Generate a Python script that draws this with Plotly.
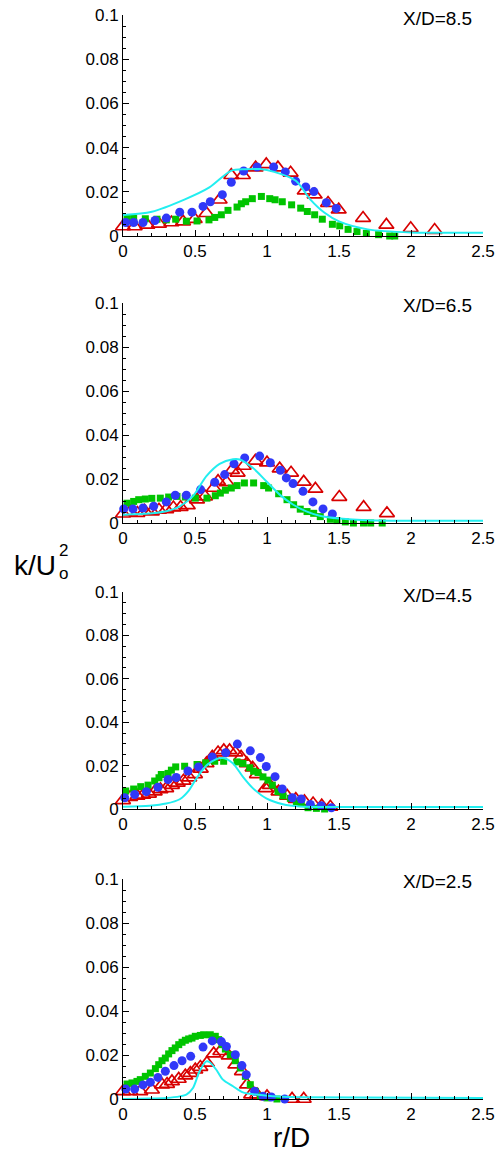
import plotly.graph_objects as go

# ---------------- data ----------------
# Panel X/D=8.5
p1_blue_x = [0.019,0.074,0.139,0.222,0.301,0.394,0.479,0.556,0.606,0.690,0.752,0.838,0.931,1.046,1.127,1.199,1.269,1.326,1.412,1.481]
p1_blue_y = [0.0061,0.0061,0.0061,0.0070,0.0081,0.0108,0.0108,0.0134,0.0155,0.0187,0.0243,0.0294,0.0312,0.0312,0.0290,0.0248,0.0222,0.0201,0.0151,0.0125]
p1_red_x = [0.0,0.081,0.169,0.25,0.336,0.417,0.498,0.579,0.671,0.752,0.833,0.921,0.995,1.076,1.164,1.262,1.331,1.424,1.498,1.667,1.829,1.998,2.164]
p1_red_y = [0.0043,0.0043,0.0050,0.0055,0.0061,0.0065,0.0076,0.0103,0.0164,0.0275,0.0275,0.0309,0.0324,0.0309,0.0286,0.0205,0.0187,0.0149,0.0119,0.0081,0.0050,0.0035,0.0027]
p1_green_x = [0.028,0.074,0.155,0.236,0.301,0.366,0.440,0.514,0.597,0.637,0.683,0.729,0.792,0.822,0.852,0.898,0.961,1.019,1.056,1.106,1.171,1.234,1.280,1.331,1.384,1.454,1.505,1.563,1.625,1.690,1.775,1.852,1.887]
p1_green_y = [0.0081,0.0081,0.0078,0.0076,0.0073,0.0076,0.0067,0.0068,0.0073,0.0084,0.0096,0.0116,0.0131,0.0146,0.0155,0.0169,0.0179,0.0169,0.0164,0.0155,0.0141,0.0126,0.0111,0.0096,0.0076,0.0053,0.0046,0.0030,0.0020,0.0012,0.0006,0.0,0.0]
p1_cyan_x = [0.0,0.2,0.43,0.6,0.75,0.85,0.95,1.05,1.2,1.3,1.4,1.5,1.7,2.0,2.5]
p1_cyan_y = [0.0095,0.011,0.0166,0.022,0.0295,0.0302,0.0303,0.029,0.025,0.0166,0.0105,0.0066,0.003,0.0016,0.0015]

# Panel X/D=6.5
p2_blue_x = [0.005,0.069,0.139,0.213,0.301,0.363,0.440,0.539,0.637,0.706,0.771,0.845,0.949,1.023,1.093,1.134,1.181,1.250,1.319,1.389,1.454]
p2_blue_y = [0.0064,0.0064,0.0068,0.0076,0.0096,0.0126,0.0126,0.0152,0.0185,0.0220,0.0269,0.0296,0.0304,0.0274,0.0240,0.0205,0.0179,0.0144,0.0096,0.0064,0.0041]
p2_red_x = [0.0,0.05,0.1,0.15,0.2,0.25,0.3,0.35,0.4,0.45,0.514,0.57,0.63,0.66,0.72,0.757,0.796,0.838,0.919,1.0,1.088,1.167,1.255,1.336,1.502,1.671,1.833]
p2_red_y = [0.0042,0.0052,0.0045,0.0055,0.0052,0.0060,0.0062,0.0070,0.0072,0.0080,0.0106,0.0120,0.0159,0.0190,0.0185,0.0240,0.0228,0.0259,0.0282,0.0274,0.0247,0.0228,0.0187,0.0155,0.0118,0.0072,0.0044]
p2_green_x = [0.028,0.074,0.109,0.155,0.2,0.259,0.317,0.375,0.433,0.502,0.583,0.641,0.676,0.711,0.752,0.792,0.843,0.907,0.977,1.011,1.081,1.139,1.185,1.231,1.278,1.324,1.37,1.44,1.486,1.544,1.6,1.67,1.72,1.8]
p2_green_y = [0.0090,0.0098,0.0106,0.0109,0.0112,0.0113,0.0118,0.0121,0.0118,0.0113,0.0113,0.0124,0.0136,0.0149,0.0159,0.0170,0.0182,0.0182,0.0170,0.0159,0.0133,0.0106,0.0083,0.0063,0.0052,0.0044,0.0029,0.0017,0.0011,0.0005,0.0,0.0,0.0,0.0]
p2_cyan_x = [0.0,0.185,0.301,0.394,0.486,0.579,0.671,0.764,0.81,0.903,0.995,1.088,1.18,1.273,1.366,1.505,1.69,2.5]
p2_cyan_y = [0.0038,0.0043,0.0053,0.0076,0.0122,0.0213,0.0269,0.0290,0.0289,0.0250,0.0190,0.0129,0.0084,0.0053,0.0033,0.0020,0.0012,0.0010]

# Panel X/D=4.5
p3_blue_x = [0.012,0.081,0.162,0.243,0.313,0.370,0.451,0.525,0.620,0.713,0.794,0.884,0.954,0.995,1.056,1.106,1.176,1.238,1.301,1.377,1.447]
p3_blue_y = [0.0052,0.0067,0.0080,0.0100,0.0136,0.0145,0.0175,0.0194,0.0240,0.0259,0.0299,0.0268,0.0237,0.0196,0.0149,0.0092,0.0052,0.0046,0.0021,0.0015,0.0006]
p3_red_x = [0.0,0.05,0.1,0.14,0.18,0.22,0.26,0.3,0.34,0.38,0.42,0.46,0.5,0.54,0.58,0.62,0.66,0.7,0.74,0.78,0.82,0.86,0.9,0.93,0.99,1.02,1.08,1.14,1.2,1.26,1.32,1.38,1.44]
p3_red_y = [0.0040,0.0055,0.0060,0.0065,0.0070,0.0080,0.0090,0.0095,0.0110,0.0120,0.0130,0.0145,0.0160,0.0185,0.0210,0.0240,0.0260,0.0270,0.0270,0.0260,0.0240,0.0210,0.0190,0.0160,0.0095,0.0110,0.0080,0.0060,0.0045,0.0035,0.0025,0.0015,0.0010]
p3_green_x = [0.019,0.074,0.123,0.174,0.220,0.25,0.266,0.313,0.336,0.366,0.428,0.514,0.574,0.637,0.699,0.792,0.833,0.880,0.907,0.938,0.972,1.007,1.037,1.076,1.111,1.162,1.204,1.238,1.285,1.343,1.400]
p3_green_y = [0.0083,0.0092,0.0103,0.0110,0.0129,0.0144,0.0159,0.0164,0.0179,0.0194,0.0197,0.0205,0.0213,0.0220,0.0220,0.0217,0.0210,0.0190,0.0174,0.0168,0.0148,0.0133,0.0110,0.0080,0.0061,0.0049,0.0034,0.0026,0.0006,0.0003,0.0]
p3_cyan_x = [0.0,0.185,0.3,0.394,0.451,0.509,0.579,0.648,0.694,0.764,0.833,0.903,0.995,1.111,1.227,1.458,2.5]
p3_cyan_y = [0.0010,0.0015,0.0025,0.0045,0.0080,0.0140,0.0200,0.0230,0.0235,0.0210,0.0148,0.0095,0.0049,0.0022,0.0012,0.0009,0.0009]

# Panel X/D=2.5
p4_blue_x = [0.019,0.081,0.139,0.190,0.243,0.294,0.354,0.410,0.470,0.556,0.620,0.683,0.718,0.780,0.826,0.856,0.914,0.972,1.030,1.123]
p4_blue_y = [0.0045,0.0045,0.0064,0.0076,0.0098,0.0126,0.0152,0.0174,0.0194,0.0236,0.0264,0.0261,0.0239,0.0201,0.0152,0.0110,0.0035,0.0012,0.0009,0.0]
p4_red_x = [0.0,0.051,0.120,0.201,0.271,0.306,0.340,0.387,0.433,0.468,0.502,0.537,0.583,0.630,0.676,0.734,0.780,0.826,0.861,0.89,0.931,1.0,1.174,1.255]
p4_red_y = [0.0035,0.0035,0.0035,0.0042,0.0065,0.0068,0.0080,0.0091,0.0106,0.0118,0.0133,0.0145,0.0164,0.0206,0.0217,0.0197,0.0156,0.0126,0.0065,0.0020,0.0020,0.0012,0.0,0.0]
p4_green_x = [0.028,0.0625,0.097,0.120,0.155,0.190,0.225,0.248,0.271,0.294,0.317,0.340,0.363,0.387,0.410,0.433,0.456,0.479,0.502,0.537,0.560,0.606,0.641,0.664,0.688,0.711,0.745,0.780,0.815,0.850,0.884,0.919,0.954,1.0,1.069]
p4_green_y = [0.0068,0.0073,0.0080,0.0088,0.0103,0.0118,0.0138,0.0156,0.0174,0.0186,0.0205,0.0220,0.0232,0.0247,0.0258,0.0267,0.0273,0.0277,0.0285,0.0289,0.0292,0.0292,0.0285,0.0270,0.0247,0.0227,0.0201,0.0174,0.0141,0.0103,0.0065,0.0035,0.0015,0.0005,0.0]
p4_cyan_x = [0.0,0.185,0.301,0.394,0.44,0.486,0.532,0.579,0.602,0.648,0.694,0.764,0.833,0.926,1.04,1.227,2.5]
p4_cyan_y = [0.0,0.0002,0.0005,0.0012,0.0020,0.0050,0.0126,0.0171,0.0167,0.0133,0.0088,0.0058,0.0030,0.0020,0.0012,0.0008,0.0005]

panel_labels = ["X/D=8.5", "X/D=6.5", "X/D=4.5", "X/D=2.5"]
x_tickvals = [0, 0.5, 1, 1.5, 2, 2.5]
x_ticktext = ["0", "0.5", "1", "1.5", "2", "2.5"]
y_tickvals = [0, 0.02, 0.04, 0.06, 0.08, 0.1]
y_ticktext = ["0", "0.02", "0.04", "0.06", "0.08", "0.1"]

# ---------------- figure ----------------
W, H = 500, 1153
panels = [
    (p1_red_x, p1_red_y, p1_green_x, p1_green_y, p1_blue_x, p1_blue_y, p1_cyan_x, p1_cyan_y),
    (p2_red_x, p2_red_y, p2_green_x, p2_green_y, p2_blue_x, p2_blue_y, p2_cyan_x, p2_cyan_y),
    (p3_red_x, p3_red_y, p3_green_x, p3_green_y, p3_blue_x, p3_blue_y, p3_cyan_x, p3_cyan_y),
    (p4_red_x, p4_red_y, p4_green_x, p4_green_y, p4_blue_x, p4_blue_y, p4_cyan_x, p4_cyan_y),
]
pix_tops = [15, 303, 592, 879]
pix_bottoms = [236, 523, 809, 1099]

FONT = "Liberation Sans"
RED = "#D80000"
GREEN = "#00C400"
BLUE = "#3038F8"
CYAN = "#22EEF0"

fig = go.Figure()
layout = dict(
    width=W, height=H,
    margin=dict(l=123, r=17, t=0, b=0, autoexpand=False),
    paper_bgcolor="white", plot_bgcolor="white",
    showlegend=False,
    font=dict(family=FONT, color="black", size=16),
)
annotations = []
for i, (rx, ry, gx, gy, bx, by, cx, cy) in enumerate(panels):
    n = "" if i == 0 else str(i + 1)
    xa, ya = "x" + n, "y" + n
    fig.add_trace(go.Scatter(x=rx, y=ry, mode="markers", xaxis=xa, yaxis=ya, cliponaxis=False,
                             marker=dict(symbol="triangle-up-open", size=13, color=RED, line=dict(width=1.7, color=RED))))
    fig.add_trace(go.Scatter(x=gx, y=gy, mode="markers", xaxis=xa, yaxis=ya, cliponaxis=False,
                             marker=dict(symbol="square", size=7, color=GREEN)))
    fig.add_trace(go.Scatter(x=bx, y=by, mode="markers", xaxis=xa, yaxis=ya, cliponaxis=False,
                             marker=dict(symbol="circle", size=9, color=BLUE)))
    fig.add_trace(go.Scatter(x=cx, y=cy, mode="lines", xaxis=xa, yaxis=ya, cliponaxis=False,
                             line=dict(color=CYAN, width=2, shape="spline", smoothing=0.8)))
    dom = [1 - pix_bottoms[i] / H, 1 - pix_tops[i] / H]
    layout["xaxis" + n] = dict(
        domain=[0, 1], anchor=ya, range=[0, 2.5], showgrid=False, zeroline=False,
        showline=True, linecolor="black", linewidth=1, ticks="inside", ticklen=6,
        tickcolor="black", tickvals=x_tickvals, ticktext=x_ticktext,
        tickfont=dict(size=17, family=FONT, color="black"),
        minor=dict(ticks="inside", ticklen=3, dtick=0.1, tick0=0, tickcolor="black", showgrid=False),
    )
    layout["yaxis" + n] = dict(
        domain=dom, anchor=xa, range=[0, 0.1], showgrid=False, zeroline=False,
        showline=True, linecolor="black", linewidth=1, ticks="inside", ticklen=6,
        tickcolor="black", tickvals=y_tickvals, ticktext=y_ticktext,
        tickfont=dict(size=17, family=FONT, color="black"),
        minor=dict(ticks="inside", ticklen=3, dtick=0.005, tick0=0, tickcolor="black", showgrid=False),
    )
    annotations.append(dict(text=panel_labels[i], xref=xa + " domain", yref=ya + " domain",
                            x=0.975, y=1, xanchor="right", yanchor="middle", yshift=-3,
                            showarrow=False, font=dict(size=19, family=FONT, color="black")))

# axis titles
annotations.append(dict(text="r/D", xref="paper", yref="paper", x=(291 - 123) / 360,
                        y=1 - 1137 / H, xanchor="center", yanchor="middle", showarrow=False,
                        font=dict(size=28, family=FONT, color="black")))
annotations.append(dict(text="k/U", xref="paper", yref="paper", x=(12 - 123) / 360,
                        y=1 - 565 / H, xanchor="left", yanchor="middle", showarrow=False,
                        font=dict(size=28, family=FONT, color="black")))
annotations.append(dict(text="2", xref="paper", yref="paper", x=(57 - 123) / 360,
                        y=1 - 550 / H, xanchor="left", yanchor="middle", showarrow=False,
                        font=dict(size=17, family=FONT, color="black")))
annotations.append(dict(text="o", xref="paper", yref="paper", x=(57 - 123) / 360,
                        y=1 - 573 / H, xanchor="left", yanchor="middle", showarrow=False,
                        font=dict(size=17, family=FONT, color="black")))
layout["annotations"] = annotations
fig.update_layout(**layout)
fig.write_html("out.html")
